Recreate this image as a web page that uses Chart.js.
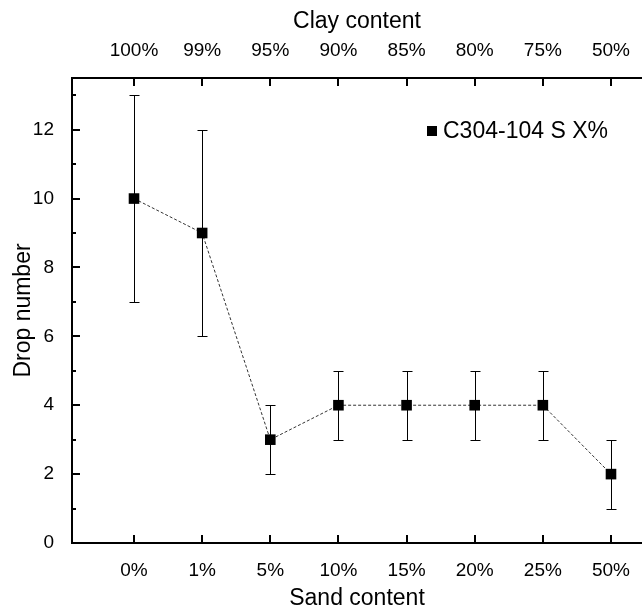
<!DOCTYPE html>
<html lang="en">
  <head>
    <meta charset="UTF-8" />
    <script src="https://cdn.jsdelivr.net/npm/chart.js"></script>
    <title>Drop number</title>
    <style>
      html, body { margin: 0; background: #fff; overflow: hidden; }
      .wrap { position: relative; width: 642px; height: 606px; }
      canvas { display: block; }
      .legenda {
        position: absolute; left: 427px; top: 117px;
        font-family: "Liberation Sans", Arial, sans-serif; font-size: 23px; color: #000;
        display: flex; align-items: center; white-space: nowrap;
      }
      .legenda span.marca { width: 10px; height: 10px; background: #000; margin-right: 6px; }
    </style>
  </head>
  <body>
    <div class="wrap">
      <canvas id="grafico" width="642" height="606"></canvas>
      <div class="legenda"><span class="marca"></span>C304-104 S X%</div>
    </div>

    <script>
      // dados
      var sandLabels = ["0%", "1%", "5%", "10%", "15%", "20%", "25%", "50%"];
      var clayLabels = ["100%", "99%", "95%", "90%", "85%", "80%", "75%", "50%"];
      var dropNumber = [10, 9, 3, 4, 4, 4, 4, 2];
      var dropError = [3, 3, 1, 1, 1, 1, 1, 1];
      var yTicks = [0, 2, 4, 6, 8, 10, 12];
      var yMinorTicks = [1, 3, 5, 7, 9, 11, 13];

      var fonte = "'Liberation Sans', Arial, sans-serif";

      // eixos com ticks para dentro + barras de erro
      var eixosErros = {
        id: "eixosErros",
        beforeDatasetsDraw(chart) {
          var ctx = chart.ctx;
          var x = chart.scales.x;
          var y = chart.scales.y;
          ctx.save();
          ctx.strokeStyle = "#000";
          ctx.lineWidth = 1;
          for (var i = 0; i < dropNumber.length; i++) {
            var px = Math.round(x.getPixelForValue(i)) + 0.5;
            var topo = Math.round(y.getPixelForValue(dropNumber[i] + dropError[i])) + 0.5;
            var base = Math.round(y.getPixelForValue(dropNumber[i] - dropError[i])) + 0.5;
            ctx.beginPath();
            ctx.moveTo(px, topo);
            ctx.lineTo(px, base);
            ctx.moveTo(px - 5, topo);
            ctx.lineTo(px + 5, topo);
            ctx.moveTo(px - 5, base);
            ctx.lineTo(px + 5, base);
            ctx.stroke();
          }
          ctx.restore();
        },
        afterDraw(chart) {
          var ctx = chart.ctx;
          var a = chart.chartArea;
          var x = chart.scales.x;
          var y = chart.scales.y;
          ctx.save();
          ctx.strokeStyle = "#000";
          ctx.lineWidth = 2;
          ctx.beginPath();
          ctx.moveTo(a.right, a.top);
          ctx.lineTo(a.left, a.top);
          ctx.lineTo(a.left, a.bottom);
          ctx.lineTo(a.right, a.bottom);
          // ticks x (topo e base)
          for (var i = 0; i < sandLabels.length; i++) {
            var px = Math.round(x.getPixelForValue(i));
            ctx.moveTo(px, a.bottom);
            ctx.lineTo(px, a.bottom - 8);
            ctx.moveTo(px, a.top);
            ctx.lineTo(px, a.top + 8);
          }
          // ticks y
          yTicks.forEach(function (v) {
            var py = Math.round(y.getPixelForValue(v));
            ctx.moveTo(a.left, py);
            ctx.lineTo(a.left + 8, py);
          });
          yMinorTicks.forEach(function (v) {
            var py = Math.round(y.getPixelForValue(v));
            ctx.moveTo(a.left, py);
            ctx.lineTo(a.left + 4, py);
          });
          ctx.stroke();
          ctx.restore();
        },
      };

      var eixoX = {
        type: "linear",
        min: -0.91,
        max: 7.455,
        grid: { display: false },
        border: { display: false },
        ticks: {
          color: "#000",
          font: { family: fonte, size: 19 },
          padding: 8,
          maxRotation: 0,
          autoSkip: false,
        },
      };

      var grafico = new Chart(document.getElementById("grafico"), {
        type: "line",
        data: {
          datasets: [
            {
              data: dropNumber.map(function (v, i) { return { x: i, y: v }; }),
              borderColor: "#333",
              borderWidth: 1,
              borderDash: [3, 2],
              pointStyle: "rect",
              pointRadius: 7.5,
              pointBackgroundColor: "#000",
              pointBorderWidth: 0,
              tension: 0,
            },
          ],
        },
        options: {
          responsive: false,
          animation: false,
          devicePixelRatio: 1,
          layout: { padding: 0, autoPadding: false },
          plugins: { legend: { display: false }, tooltip: { enabled: false } },
          scales: {
            x: Object.assign({}, eixoX, {
              position: "bottom",
              afterBuildTicks: function (s) { s.ticks = sandLabels.map(function (l, i) { return { value: i }; }); },
              afterFit: function (s) { s.height = 63; s.paddingLeft = 0; s.paddingRight = 0; },
              ticks: Object.assign({}, eixoX.ticks, { callback: function (v) { return sandLabels[v]; } }),
              title: {
                display: true,
                text: "Sand content",
                color: "#000",
                font: { family: fonte, size: 23, lineHeight: 0.8 },
                padding: { top: 0, bottom: -2 },
              },
            }),
            x2: Object.assign({}, eixoX, {
              position: "top",
              afterBuildTicks: function (s) { s.ticks = clayLabels.map(function (l, i) { return { value: i }; }); },
              afterFit: function (s) { s.height = 78; s.paddingLeft = 0; s.paddingRight = 0; },
              ticks: Object.assign({}, eixoX.ticks, { callback: function (v) { return clayLabels[v]; } }),
              title: {
                display: true,
                text: "Clay content",
                color: "#000",
                font: { family: fonte, size: 23 },
                padding: { top: 8, bottom: 0 },
              },
            }),
            y: {
              type: "linear",
              min: 0,
              max: 13.5,
              grid: { display: false },
              border: { display: false },
              afterBuildTicks: function (s) { s.ticks = yTicks.map(function (v) { return { value: v }; }); },
              afterFit: function (s) { s.width = 72; s.paddingTop = 0; s.paddingBottom = 0; },
              ticks: {
                color: "#000",
                font: { family: fonte, size: 19 },
                padding: 10,
              },
              title: {
                display: true,
                text: "Drop number",
                color: "#000",
                font: { family: fonte, size: 23 },
                padding: { top: 10, bottom: 0 },
              },
            },
          },
        },
        plugins: [eixosErros],
      });
    </script>
  </body>
</html>
